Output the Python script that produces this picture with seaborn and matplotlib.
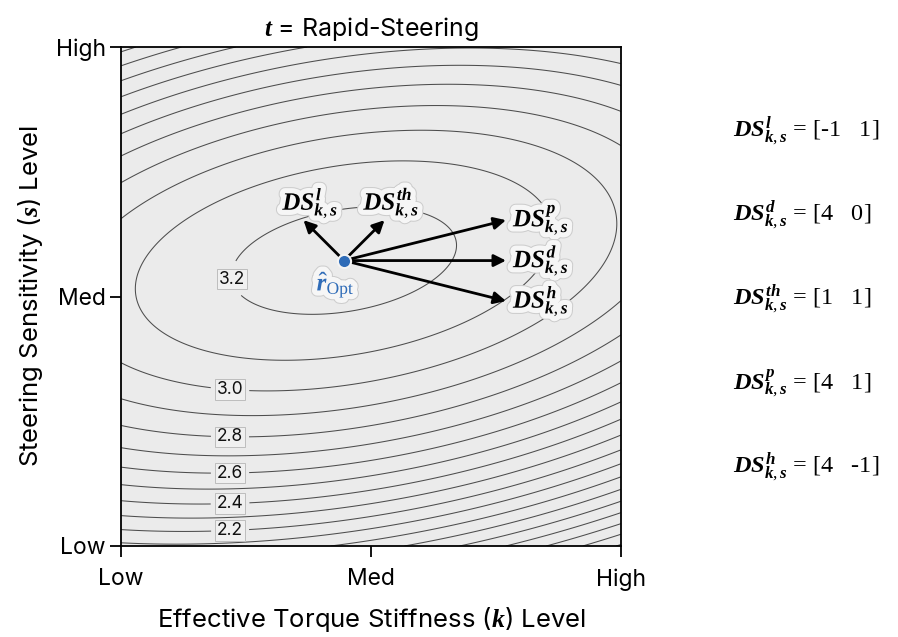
import numpy as np
import matplotlib
matplotlib.use("Agg")
import matplotlib.pyplot as plt
import matplotlib.patheffects as pe
import seaborn as sns

# ---- surface: quadratic response centred on the optimum (Low=-1, Med=0, High=1)
peak_value = 3.241
optimum = (-0.108, 0.144)
coef_kk, coef_ks, coef_ss = 0.220, -0.130, 0.960
contour_levels = [1.0, 1.1, 1.2, 1.3, 1.4, 1.5, 1.6, 1.7, 1.8, 1.9, 2.0,
                  2.1, 2.2, 2.3, 2.4, 2.5, 2.6, 2.7, 2.8, 2.9, 3.0, 3.1, 3.2]
labelled_levels = [2.2, 2.4, 2.6, 2.8, 3.0, 3.2]
label_y = [-0.928, -0.82, -0.704, -0.56, -0.372, 0.068]
label_x = -0.564

# ---- design-step directions
step_names = ["l", "th", "p", "d", "h"]
step_k = [-1, 1, 4, 4, 4]
step_s = [1, 1, 1, 0, -1]
step_scale = 0.162

# ---- equations listed at the right
eq_names = ["l", "d", "th", "p", "h"]
eq_k = ["-1", "4", "1", "4", "4"]
eq_s = ["1", "0", "1", "1", "-1"]

tick_pos = [-1, 0, 1]
tick_text = ["Low", "Med", "High"]

sns.set_theme(style="white")
plt.rcParams["font.family"] = ["Inter", "DejaVu Sans"]
plt.rcParams["mathtext.fontset"] = "custom"
plt.rcParams["mathtext.rm"] = "Liberation Serif"
plt.rcParams["mathtext.it"] = "Liberation Serif:italic:bold"
plt.rcParams["mathtext.bf"] = "Liberation Serif:bold"

fig = plt.figure(figsize=(8.98, 6.37), dpi=100)
ax = fig.add_axes([121 / 898, 91 / 637, 500 / 898, 499 / 637])
ax.set_facecolor("#ebebeb")

g = np.linspace(-1, 1, 500)
K, S = np.meshgrid(g, g)
U, V = K - optimum[0], S - optimum[1]
Z = peak_value - (coef_kk * U**2 + 2 * coef_ks * U * V + coef_ss * V**2)

plain_levels = [lv for lv in contour_levels if lv not in labelled_levels]
line_kw = dict(colors="#4d4d4d", linewidths=0.75)
ax.contour(K, S, Z, levels=plain_levels, **line_kw)
cs = ax.contour(K, S, Z, levels=labelled_levels, **line_kw)
texts = ax.clabel(cs, manual=[(label_x, y) for y in label_y],
                  inline=True, inline_spacing=6, fmt="%.1f", fontsize=12.5, colors="#111111")
for t in texts:
    t.set_rotation(0)
    t.set_bbox(dict(boxstyle="square,pad=0.1", fc="#f0f0f0", ec="#bdbdbd", lw=0.7))

halo = [pe.Stroke(linewidth=9, foreground="#cdcdcd"),
        pe.Stroke(linewidth=7.5, foreground="#f6f6f6"), pe.Normal()]

# step arrows and their labels
for name, dk, ds in zip(step_names, step_k, step_s):
    tip = (optimum[0] + step_scale * dk, optimum[1] + step_scale * ds)
    ax.annotate("", xy=tip, xytext=optimum,
                arrowprops=dict(arrowstyle="-|>", lw=2, color="black",
                                mutation_scale=18, shrinkA=0, shrinkB=0), zorder=4)
    if dk == 4:
        off, ha, va = (5, 0), "left", "center"
    else:
        off, ha, va = (5, 0), "center", "bottom"
    ax.annotate(rf"$DS^{{{name}}}_{{k,s}}$", xy=tip, xytext=off, textcoords="offset points",
                ha=ha, va=va, fontsize=18, color="black", path_effects=halo, zorder=5)

sns.scatterplot(x=[optimum[0]], y=[optimum[1]], ax=ax, s=90, color="#2f6cb8",
                edgecolor="#f4f4f4", linewidth=1.5, zorder=6, legend=False)
ax.annotate(r"$\hat{r}_{\mathrm{Opt}}$", xy=optimum, xytext=(-6, -6), textcoords="offset points",
            ha="center", va="top", fontsize=18, color="#2f6cb8", path_effects=halo, zorder=6)

ax.set_xlim(-1, 1)
ax.set_ylim(-1, 1)
ax.set_xticks(tick_pos, tick_text)
ax.set_yticks(tick_pos, tick_text)
ax.tick_params(axis="both", direction="out", length=8, width=1.3, color="black",
               labelsize=16.5, labelcolor="black", bottom=True, left=True)
ax.tick_params(axis="x", pad=8)
ax.tick_params(axis="y", pad=3)
for sp in ax.spines.values():
    sp.set_color("black")
    sp.set_linewidth(1.3)

ax.set_xlabel(r"Effective Torque Stiffness ($k$) Level", fontsize=18.5, labelpad=10, color="black")
ax.set_ylabel(r"Steering Sensitivity ($s$) Level", fontsize=18.5, labelpad=8, color="black")
ax.set_title(r"$t$ = Rapid-Steering", fontsize=18, pad=8, color="black")

eq_y = [131, 215, 299, 383, 467]
for name, a, b, yp in zip(eq_names, eq_k, eq_s, eq_y):
    fig.text(733 / 898, 1 - yp / 637, rf"$DS^{{{name}}}_{{k,s}}$" + f" = [{a}   {b}]",
             family="Liberation Serif", fontsize=17.5, ha="left", va="center", color="black")

fig.savefig("out.png", dpi=100)
